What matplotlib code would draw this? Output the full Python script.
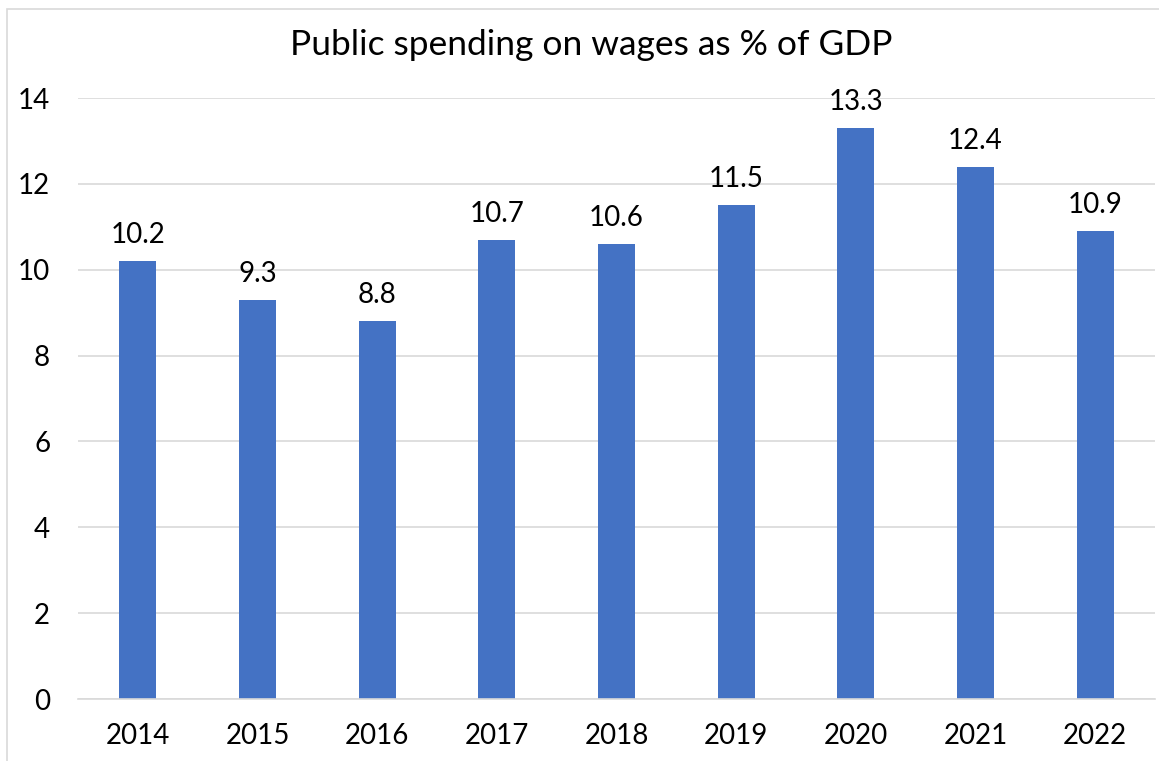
import matplotlib.pyplot as plt
from matplotlib.patches import Rectangle

years = ["2014", "2015", "2016", "2017", "2018", "2019", "2020", "2021", "2022"]
wages_pct_gdp = [10.2, 9.3, 8.8, 10.7, 10.6, 11.5, 13.3, 12.4, 10.9]
title = "Public spending on wages as % of GDP"

plt.rcParams['font.family'] = ['Lato', 'DejaVu Sans']

W, H = 1159, 761
fig = plt.figure(figsize=(W / 100, H / 100), dpi=100)

# light frame round the chart (left/top edges visible in the reference)
fig.add_artist(Rectangle((7 / W, -0.05), 1.2, 1 - 9 / H + 0.05,
                         transform=fig.transFigure, fill=False,
                         edgecolor="#d9d9d9", linewidth=1.2))

ax = fig.add_axes([78 / W, 1 - 699 / H, (1155 - 78) / W, (699 - 98) / H])

x = range(len(years))
bars = ax.bar(x, wages_pct_gdp, width=0.31, color="#4472C4", zorder=2)
for b, v in zip(bars, wages_pct_gdp):
    ax.text(b.get_x() + b.get_width() / 2, v + 0.3, f"{v:.1f}",
            ha="center", va="bottom", fontsize=20, color="#000000")

ax.set_xlim(-0.5, len(years) - 0.5)
ax.set_ylim(0, 14)
ax.set_yticks(range(0, 15, 2))
ax.set_xticks(list(x))
ax.set_xticklabels(years)
ax.tick_params(axis="both", length=0, labelsize=20, colors="#000000")
ax.tick_params(axis="x", pad=17)
ax.tick_params(axis="y", pad=20)
ax.grid(axis="y", color="#d9d9d9", linewidth=1.2, zorder=0)
for s in ["top", "right", "left"]:
    ax.spines[s].set_visible(False)
ax.spines["bottom"].set_color("#d9d9d9")
ax.spines["bottom"].set_linewidth(1.2)

fig.text(591 / W, 1 - 45 / H, title, ha="center", va="center", fontsize=25.5)

fig.savefig("out.png", dpi=100)
